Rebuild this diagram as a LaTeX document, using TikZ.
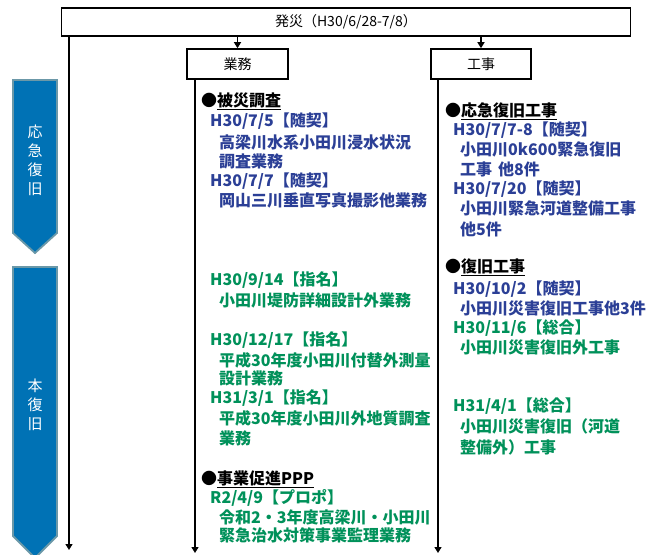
\documentclass[tikz,border=0pt]{standalone}
\usepackage{fontspec}
\setmainfont{Noto Sans CJK JP}
\usetikzlibrary{arrows.meta}
\definecolor{tblue}{HTML}{2B3F96}
\definecolor{tgreen}{HTML}{00915A}
\definecolor{cfill}{HTML}{0072B5}
\definecolor{cedge}{HTML}{6B98A8}
\tikzset{
  framebox/.style={draw, line width=1.6pt, inner sep=0pt, font=\fontsize{14}{14}\selectfont},
  arr/.style={line width=1.4pt, -{Triangle[width=7pt,length=6pt]}},
  txt/.style={anchor=base west, inner sep=0pt, font=\fontsize{16}{16}\selectfont\bfseries},
  head/.style={txt, text=black},
  bl/.style={txt, text=tblue},
  gr/.style={txt, text=tgreen},
  chev/.style={fill=cfill, draw=cedge, line width=1.8pt, line join=miter},
  ctext/.style={text=white, align=center, inner sep=0pt, font=\fontsize{15}{19}\selectfont}
}
\begin{document}
\begin{tikzpicture}[x=1pt,y=-1pt]
\useasboundingbox (0,0) rectangle (665,555);
\fill[white] (0,0) rectangle (665,555);

% chevrons
\draw[chev] (13,80) -- (57,80) -- (57,233) -- (35,253) -- (13,233) -- cycle;
\draw[chev] (13,267) -- (57,267) -- (57,536) -- (35,558) -- (13,536) -- cycle;
\node[ctext] (c1) at (35,160) {応\\急\\復\\旧};
\node[ctext] (c2) at (35,405) {本\\復\\旧};

% boxes
\node[framebox, minimum width=569pt, minimum height=28pt] (top) at (346,22) {発災（H30/6/28-7/8）};
\node[framebox, minimum width=101pt, minimum height=30pt] (gyomu) at (237.5,64) {業務};
\node[framebox, minimum width=100pt, minimum height=30pt] (koji) at (481,64) {工事};

\draw[arr] (top.south -| gyomu.north) -- (gyomu.north);
\draw[arr] (top.south -| koji.north) -- (koji.north);

\coordinate (lend) at (69,550);
\coordinate (gend) at (195,553);
\coordinate (kend) at (438,553);
\draw[arr] (top.south -| lend) -- (lend);
\draw[arr] (gyomu.south -| gend) -- (gend);
\draw[arr] (koji.south -| kend) -- (kend);

% left column
\node[head] (h1) at (201,106) {●\underline{被災調査}};
\node[bl] (d1) at (210,126) {H30/7/5【随契】};
\node[bl] (l1) at (219,148) {高梁川水系小田川浸水状況};
\node[bl] (l2) at (219,167) {調査業務};
\node[bl] (d2) at (210,186) {H30/7/7【随契】};
\node[bl] (l3) at (219,206) {岡山三川垂直写真撮影他業務};

\node[gr] (d3) at (210,285) {H30/9/14【指名】};
\node[gr] (l4) at (219,306) {小田川堤防詳細設計外業務};
\node[gr] (d4) at (210,345) {H30/12/17【指名】};
\node[gr] (l5) at (219,366) {平成30年度小田川付替外測量};
\node[gr] (l6) at (219,384) {設計業務};
\node[gr] (d5) at (210,403) {H31/3/1【指名】};
\node[gr] (l7) at (219,424) {平成30年度小田川外地質調査};
\node[gr] (l8) at (219,444) {業務};

\node[head] (h2) at (201,484) {●\underline{事業促進PPP}};
\node[gr] (d6) at (210,503) {R2/4/9【プロポ】};
\node[gr] (l9) at (219,523) {令和2・3年度高梁川・小田川};
\node[gr] (l10) at (219,541) {緊急治水対策事業監理業務};

% right column
\node[head] (h3) at (445,116) {●\underline{応急復旧工事}};
\node[bl] (d7) at (453,135) {H30/7/7-8【随契】};
\node[bl] (r1) at (460,155) {小田川0k600緊急復旧};
\node[bl] (r2) at (460,175) {工事\hspace{6pt}他8件};
\node[bl] (d8) at (453,194) {H30/7/20【随契】};
\node[bl] (r3) at (460,214) {小田川緊急河道整備工事};
\node[bl] (r4) at (460,235) {他5件};

\node[head] (h4) at (445,272) {●\underline{復旧工事}};
\node[bl] (d9) at (453,294) {H30/10/2【随契】};
\node[bl] (r5) at (460,314) {小田川災害復旧工事他3件};
\node[gr] (d10) at (453,333) {H30/11/6【総合】};
\node[gr] (r6) at (460,353) {小田川災害復旧外工事};
\node[gr] (d11) at (453,411) {H31/4/1【総合】};
\node[gr] (r7) at (460,432) {小田川災害復旧（河道};
\node[gr] (r8) at (460,453) {整備外）工事};
\end{tikzpicture}
\end{document}
